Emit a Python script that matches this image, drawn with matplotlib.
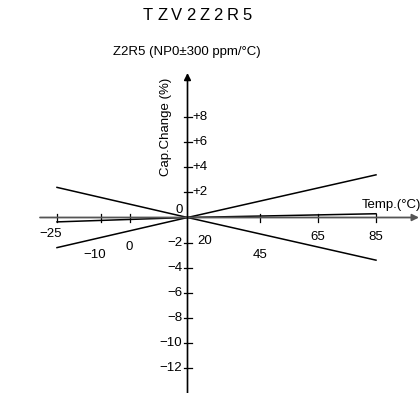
import matplotlib
matplotlib.use("Agg")
import matplotlib.pyplot as plt
import numpy as np

plt.rcParams['font.family'] = ['Liberation Sans', 'DejaVu Sans']

# data
temps_env = [-25, 20, 85]
upper_env = [2.4, 0.0, 3.4]
lower_env = [-2.4, 0.0, -3.4]
temps_mid = [-25, 20, 85]
mid_curve = [-0.35, 0.0, 0.3]

x_ticks = [-25, -10, 0, 20, 45, 65, 85]
x_tick_labels = ['\u221225', '\u221210', '0', '20', '45', '65', '85']
y_ticks_pos = [2, 4, 6, 8]
y_ticks_neg = [-2, -4, -6, -8, -10, -12]
title = 'TZV2Z2R5'
subtitle = 'Z2R5 (NP0\u00b1300 ppm/\u00b0C)'

W, H = 420, 393
fig = plt.figure(figsize=(W / 100, H / 100), dpi=100)
ax = fig.add_axes([0, 0, 1, 1])
ax.axis('off')

px_per_T = 2.9
px_per_v = 12.55
x0px, y0px = 187.5, 217.5
ax.set_xlim(20 - x0px / px_per_T, 20 + (W - x0px) / px_per_T)
ax.set_ylim(-(H - y0px) / px_per_v, y0px / px_per_v)

def dx(px):
    return px / px_per_T

def dy(px):
    return px / px_per_v

# horizontal axis (gray) with arrow
ax.annotate('', xy=(20 + dx(419 - x0px), 0), xytext=(20 + dx(40 - x0px), 0),
            arrowprops=dict(arrowstyle='-|>', color='#555555', lw=1.3,
                            mutation_scale=10, shrinkA=0, shrinkB=0))
# vertical axis with arrow
ax.annotate('', xy=(20, dy(y0px - 73)), xytext=(20, -dy(H - y0px + 2)),
            arrowprops=dict(arrowstyle='-|>', color='black', lw=1.2,
                            mutation_scale=10, shrinkA=0, shrinkB=0))

# x ticks
for t in x_ticks:
    if t == 20:
        continue
    ax.plot([t, t], [-dy(4), dy(4)], color='black', lw=0.9)
# y ticks
for v in y_ticks_pos + y_ticks_neg:
    ax.plot([20 - dx(4), 20 + dx(4)], [v, v], color='black', lw=0.9)

# curves
ax.plot(temps_env, upper_env, color='black', lw=1.1)
ax.plot(temps_env, lower_env, color='black', lw=1.1)
ax.plot(temps_mid, mid_curve, color='black', lw=1.1)

fs = 9.5
# x tick labels (staggered)
x_label_offsets = {-25: 16.5, -10: 37, 0: 29.5, 20: 23, 45: 37.5, 65: 20, 85: 20}
x_label_dx = {-25: -6, -10: -6, 0: 0, 20: 17, 45: 0, 65: 0, 85: 0}
for t, lab in zip(x_ticks, x_tick_labels):
    ax.text(t + dx(x_label_dx[t]), -dy(x_label_offsets[t]), lab, ha='center',
            va='center', fontsize=fs)

# y tick labels
for v in y_ticks_pos:
    ax.text(20 + dx(5), v, '+%d' % v, ha='left', va='center', fontsize=fs)
for v in y_ticks_neg:
    ax.text(20 - dx(5), v, '\u2212%d' % (-v), ha='right', va='center', fontsize=fs)
ax.text(20 - dx(8), dy(7.5), '0', ha='center', va='center', fontsize=fs)

# axis titles
ax.text(20 - dx(22), dy(y0px - 127), 'Cap.Change (%)', rotation=90,
        ha='center', va='center', fontsize=fs)
ax.text(20 + dx(391 - x0px), dy(12.5), 'Temp.(\u00b0C)', ha='center', va='center',
        fontsize=fs)

# title with letter spacing
renderer = fig.canvas.get_renderer()
tfs = 12
tracking = 3.9
widths = []
for ch in title:
    t = fig.text(0, 0, ch, fontsize=tfs)
    widths.append(t.get_window_extent(renderer).width)
    t.remove()
total = sum(widths) + tracking * (len(title) - 1)
xpos = 197.5 - total / 2
for ch, w in zip(title, widths):
    fig.text(xpos / W, 1 - 15 / H, ch, ha='left', va='center', fontsize=tfs)
    xpos += w + tracking

fig.text(187 / W, 1 - 52 / H, subtitle, ha='center', va='center', fontsize=fs)

fig.savefig('out.png', dpi=100)
